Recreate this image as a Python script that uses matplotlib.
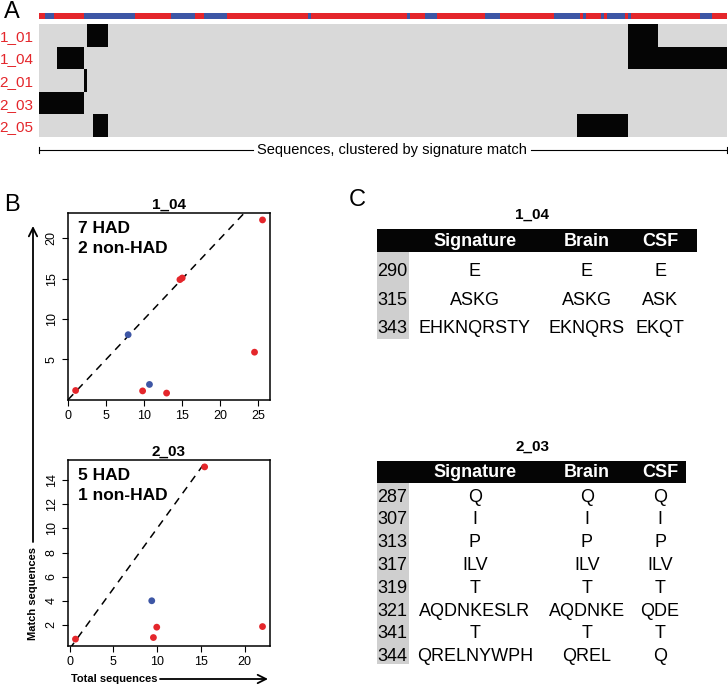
import matplotlib
matplotlib.use("Agg")
import matplotlib.pyplot as plt
import numpy as np
from matplotlib.colors import ListedColormap
from matplotlib.patches import Rectangle

plt.rcParams["font.family"] = ["Liberation Sans", "DejaVu Sans"]

W, H = 728, 687
RED = "#e4262b"
BLUE = "#3d56a5"
GREY = "#d9d9d9"

# ---- data -------------------------------------------------------------
n_seq = 230
# strip of sequences: (is_HAD, run length)
strip_runs = [
    (1, 2), (0, 3), (1, 10), (0, 1), (0, 16), (1, 12), (0, 8), (1, 3),
    (0, 8), (1, 27), (0, 1), (1, 32), (0, 1), (1, 5), (0, 4), (1, 16),
    (0, 5), (1, 18), (0, 9), (1, 1), (0, 1), (1, 5), (0, 1), (1, 1),
    (0, 6), (1, 1), (0, 1), (1, 23), (0, 4), (1, 5),
]
sig_rows = ["1_01", "1_04", "2_01", "2_03", "2_05"]
# matched sequence column ranges (start, end) per signature
sig_blocks = [
    [(16, 23), (197, 207)],
    [(6, 15), (197, 230)],
    [(15, 16)],
    [(0, 15)],
    [(18, 23), (180, 197)],
]

b1_title = "1_04"
b1_total = [1, 7.9, 10.7, 9.8, 12.95, 14.7, 15.0, 24.5, 25.55]
b1_match = [1.15, 8.07, 1.9, 1.1, 0.83, 14.9, 15.1, 5.9, 22.3]
b1_had = [1, 0, 0, 1, 1, 1, 1, 1, 1]
b1_counts = ("7 HAD", "2 non-HAD")

b2_title = "2_03"
b2_total = [0.68, 9.39, 9.58, 9.96, 15.43, 22.04]
b2_match = [0.82, 4.0, 0.95, 1.81, 15.1, 1.86]
b2_had = [1, 0, 1, 1, 1, 1]
b2_counts = ("5 HAD", "1 non-HAD")

tab_header = ["Signature", "Brain", "CSF"]
t1_pos = ["290", "315", "343"]
t1_sig = ["E", "ASKG", "EHKNQRSTY"]
t1_brain = ["E", "ASKG", "EKNQRS"]
t1_csf = ["E", "ASK", "EKQT"]

t2_pos = ["287", "307", "313", "317", "319", "321", "341", "344"]
t2_sig = ["Q", "I", "P", "ILV", "T", "AQDNKESLR", "T", "QRELNYWPH"]
t2_brain = ["Q", "I", "P", "ILV", "T", "AQDNKE", "T", "QREL"]
t2_csf = ["Q", "I", "P", "ILV", "T", "QDE", "T", "Q"]


def rect(l, t, r, b):
    return [l / W, 1 - b / H, (r - l) / W, (b - t) / H]


fig = plt.figure(figsize=(W / 100, H / 100), dpi=100)

# overlay in pixel coordinates for annotations
ov = fig.add_axes([0, 0, 1, 1])
ov.set_xlim(0, W)
ov.set_ylim(H, 0)
ov.axis("off")

# ---- panel A ----------------------------------------------------------
strip = np.concatenate([[v] * n for v, n in strip_runs])
ax_s = fig.add_axes(rect(39, 13, 727, 19))
ax_s.pcolormesh(np.arange(n_seq + 1), [0, 1], strip[None, :],
                cmap=ListedColormap([BLUE, RED]), vmin=0, vmax=1)
ax_s.axis("off")

mat = np.zeros((len(sig_rows), n_seq))
for i, blocks in enumerate(sig_blocks):
    for s, e in blocks:
        mat[i, s:e] = 1
ax_h = fig.add_axes(rect(39, 24, 727, 137))
ax_h.pcolormesh(np.arange(n_seq + 1), np.arange(len(sig_rows) + 1), mat,
                cmap=ListedColormap([GREY, "#050505"]), vmin=0, vmax=1)
ax_h.set_xlim(0, n_seq)
ax_h.set_ylim(len(sig_rows), 0)
ax_h.set_xticks([])
ax_h.set_yticks(np.arange(len(sig_rows)) + 0.5)
ax_h.set_yticklabels(sig_rows, color=RED, fontsize=11)
ax_h.tick_params(axis="y", length=0, pad=4)
for sp in ax_h.spines.values():
    sp.set_visible(False)

ov.text(4, 12, "A", fontsize=17, va="center", ha="left")
ov.plot([39, 253], [150, 150], color="black", lw=0.8)
ov.plot([531, 727], [150, 150], color="black", lw=0.8)
ov.plot([39, 39], [147, 153], color="black", lw=0.8)
ov.plot([727, 727], [147, 153], color="black", lw=0.8)
ov.text(392, 150, "Sequences, clustered by signature match", fontsize=10.5,
        ha="center", va="center")

# ---- panel B ----------------------------------------------------------
def scatter_panel(r, title, tot, mat_, had, counts, xt, yt):
    ax = fig.add_axes(r)
    tot = np.array(tot)
    mat_ = np.array(mat_)
    cols = [RED if h else BLUE for h in had]
    ax.scatter(tot, mat_, c=cols, s=24, zorder=3, linewidths=0)
    xr = tot.max() - tot.min()
    yr = mat_.max() - mat_.min()
    ax.set_xlim(tot.min() - 0.04 * xr, tot.max() + 0.04 * xr)
    ax.set_ylim(mat_.min() - 0.04 * yr, mat_.max() + 0.04 * yr)
    ax.plot([0, 100], [0, 100], ls=(0, (5, 4)), color="black", lw=1.1)
    ax.set_xticks(xt)
    ax.set_yticks(yt)
    ax.tick_params(labelsize=9, length=4, width=0.8)
    for lab in ax.get_yticklabels():
        lab.set_rotation(90)
        lab.set_va("center")
    for sp in ax.spines.values():
        sp.set_linewidth(1.1)
    ax.set_title(title, fontsize=11, fontweight="bold", pad=3)
    for k, txt in enumerate(counts):
        ax.annotate(txt, xy=(0, 1), xycoords="axes fraction",
                    xytext=(7, -11 - 14.5 * k), textcoords="offset points",
                    fontsize=12.5, fontweight="bold", va="center")
    return ax


scatter_panel(rect(68, 213, 270, 400), b1_title, b1_total, b1_match, b1_had,
              b1_counts, [0, 5, 10, 15, 20, 25], [5, 10, 15, 20])
scatter_panel(rect(68, 460, 270, 646), b2_title, b2_total, b2_match, b2_had,
              b2_counts, [0, 5, 10, 15, 20], [2, 4, 6, 8, 10, 12, 14])

ov.text(4, 205, "B", fontsize=17, va="center", ha="left")
ov.annotate("", xy=(33, 226), xytext=(33, 542),
            arrowprops=dict(arrowstyle="->,head_length=0.6,head_width=0.3",
                            lw=1.3, color="black", shrinkA=0, shrinkB=0))
ov.text(33, 593, "Match sequences", rotation=90, fontsize=8,
        fontweight="bold", ha="center", va="center")
ov.annotate("", xy=(268, 679), xytext=(160, 679),
            arrowprops=dict(arrowstyle="->,head_length=0.6,head_width=0.3",
                            lw=1.3, color="black", shrinkA=0, shrinkB=0))
ov.text(114, 679, "Total sequences", fontsize=8, fontweight="bold",
        ha="center", va="center")

# ---- panel C ----------------------------------------------------------
ov.text(349, 200, "C", fontsize=17, va="center", ha="left")
col_x = [475, 587, 660]


def draw_table(title, title_y, bar_top, bar_bot, bar_right, row_h, first_y,
               pos, sig, brain, csf):
    ov.text(532, title_y, title, fontsize=11, fontweight="bold",
            ha="center", va="center")
    ov.add_patch(Rectangle((377, bar_top), bar_right - 377, bar_bot - bar_top,
                           color="#050505", lw=0))
    for x, h in zip(col_x, tab_header):
        ov.text(x, (bar_top + bar_bot) / 2 + 0.5, h, color="white",
                fontsize=13, fontweight="bold", ha="center", va="center")
    n = len(pos)
    grey_bot = first_y + (n - 1) * row_h + (first_y - bar_bot) * 0.55
    ov.add_patch(Rectangle((377, bar_bot), 32, grey_bot - bar_bot,
                           color="#cfcfcf", lw=0))
    for i in range(n):
        y = first_y + i * row_h
        ov.text(377, y, pos[i], fontsize=13, ha="left", va="center")
        for x, v in zip(col_x, (sig[i], brain[i], csf[i])):
            ov.text(x, y, v, fontsize=13, ha="center", va="center")


draw_table("1_04", 215, 229, 252, 697, 28.2, 272,
           t1_pos, t1_sig, t1_brain, t1_csf)
draw_table("2_03", 447, 461, 483, 686, 22.8, 497,
           t2_pos, t2_sig, t2_brain, t2_csf)

fig.savefig("out.png", dpi=100)
